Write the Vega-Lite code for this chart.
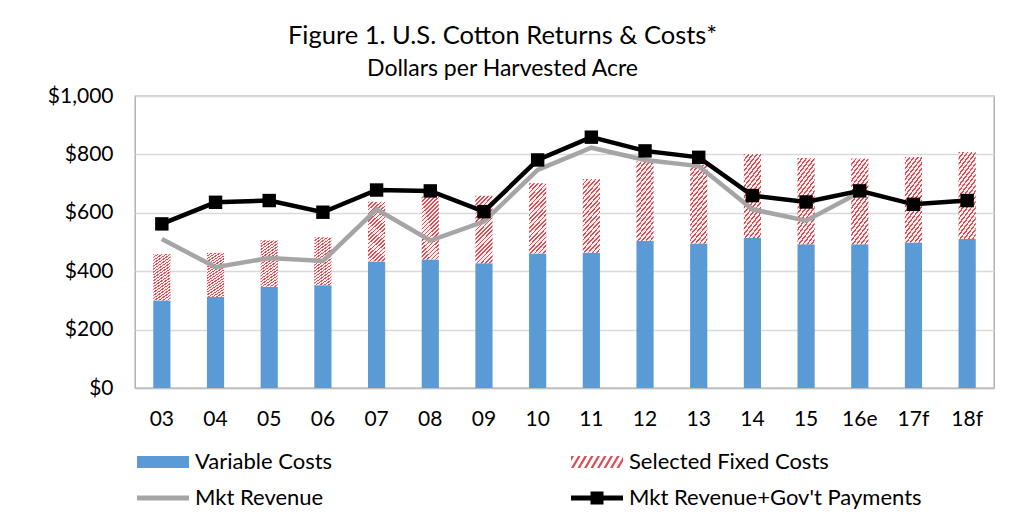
{
  "$schema": "https://vega.github.io/schema/vega-lite/v6.json",
  "width": 859,
  "height": 292,
  "autosize": {"type": "none"},
  "padding": {"left": 135, "top": 96, "right": 27, "bottom": 126},
  "background": "white",
  "config": {
    "font": "Lato",
    "view": {"stroke": "#a6a6a6", "strokeWidth": 1.3},
    "legend": {"labelFont": "Lato", "labelFontSize": 22, "labelColor": "#000", "symbolStrokeWidth": 0, "labelLimit": 500}
  },
  "title": {
    "text": "Figure 1. U.S. Cotton Returns & Costs*",
    "subtitle": "Dollars per Harvested Acre",
    "font": "Lato",
    "subtitleFont": "Lato",
    "fontSize": 25.5,
    "subtitleFontSize": 23,
    "fontWeight": "normal",
    "color": "#000",
    "subtitleColor": "#000",
    "anchor": "middle",
    "dx": -62,
    "offset": 4,
    "subtitlePadding": 9
  },
  "data": {
    "values": [
      {"year": "03", "series": "Variable Costs", "value": 300},
      {"year": "04", "series": "Variable Costs", "value": 312},
      {"year": "05", "series": "Variable Costs", "value": 347},
      {"year": "06", "series": "Variable Costs", "value": 352},
      {"year": "07", "series": "Variable Costs", "value": 433},
      {"year": "08", "series": "Variable Costs", "value": 440},
      {"year": "09", "series": "Variable Costs", "value": 427},
      {"year": "10", "series": "Variable Costs", "value": 461},
      {"year": "11", "series": "Variable Costs", "value": 463},
      {"year": "12", "series": "Variable Costs", "value": 504},
      {"year": "13", "series": "Variable Costs", "value": 495},
      {"year": "14", "series": "Variable Costs", "value": 514},
      {"year": "15", "series": "Variable Costs", "value": 492},
      {"year": "16e", "series": "Variable Costs", "value": 492},
      {"year": "17f", "series": "Variable Costs", "value": 498},
      {"year": "18f", "series": "Variable Costs", "value": 510},
      {"year": "03", "series": "Selected Fixed Costs", "value": 159},
      {"year": "04", "series": "Selected Fixed Costs", "value": 151},
      {"year": "05", "series": "Selected Fixed Costs", "value": 159},
      {"year": "06", "series": "Selected Fixed Costs", "value": 164},
      {"year": "07", "series": "Selected Fixed Costs", "value": 205},
      {"year": "08", "series": "Selected Fixed Costs", "value": 215},
      {"year": "09", "series": "Selected Fixed Costs", "value": 231},
      {"year": "10", "series": "Selected Fixed Costs", "value": 240},
      {"year": "11", "series": "Selected Fixed Costs", "value": 253},
      {"year": "12", "series": "Selected Fixed Costs", "value": 272},
      {"year": "13", "series": "Selected Fixed Costs", "value": 270},
      {"year": "14", "series": "Selected Fixed Costs", "value": 287},
      {"year": "15", "series": "Selected Fixed Costs", "value": 296},
      {"year": "16e", "series": "Selected Fixed Costs", "value": 294},
      {"year": "17f", "series": "Selected Fixed Costs", "value": 293},
      {"year": "18f", "series": "Selected Fixed Costs", "value": 298},
      {"year": "03", "series": "Mkt Revenue", "value": 510},
      {"year": "04", "series": "Mkt Revenue", "value": 414},
      {"year": "05", "series": "Mkt Revenue", "value": 445},
      {"year": "06", "series": "Mkt Revenue", "value": 435},
      {"year": "07", "series": "Mkt Revenue", "value": 612},
      {"year": "08", "series": "Mkt Revenue", "value": 505},
      {"year": "09", "series": "Mkt Revenue", "value": 570},
      {"year": "10", "series": "Mkt Revenue", "value": 747},
      {"year": "11", "series": "Mkt Revenue", "value": 823},
      {"year": "12", "series": "Mkt Revenue", "value": 781},
      {"year": "13", "series": "Mkt Revenue", "value": 760},
      {"year": "14", "series": "Mkt Revenue", "value": 612},
      {"year": "15", "series": "Mkt Revenue", "value": 573},
      {"year": "16e", "series": "Mkt Revenue", "value": 670},
      {"year": "03", "series": "Mkt Revenue+Gov't Payments", "value": 562},
      {"year": "04", "series": "Mkt Revenue+Gov't Payments", "value": 636},
      {"year": "05", "series": "Mkt Revenue+Gov't Payments", "value": 642},
      {"year": "06", "series": "Mkt Revenue+Gov't Payments", "value": 602},
      {"year": "07", "series": "Mkt Revenue+Gov't Payments", "value": 678},
      {"year": "08", "series": "Mkt Revenue+Gov't Payments", "value": 675},
      {"year": "09", "series": "Mkt Revenue+Gov't Payments", "value": 604},
      {"year": "10", "series": "Mkt Revenue+Gov't Payments", "value": 781},
      {"year": "11", "series": "Mkt Revenue+Gov't Payments", "value": 859},
      {"year": "12", "series": "Mkt Revenue+Gov't Payments", "value": 812},
      {"year": "13", "series": "Mkt Revenue+Gov't Payments", "value": 790},
      {"year": "14", "series": "Mkt Revenue+Gov't Payments", "value": 659},
      {"year": "15", "series": "Mkt Revenue+Gov't Payments", "value": 637},
      {"year": "16e", "series": "Mkt Revenue+Gov't Payments", "value": 675},
      {"year": "17f", "series": "Mkt Revenue+Gov't Payments", "value": 629},
      {"year": "18f", "series": "Mkt Revenue+Gov't Payments", "value": 642}
    ]
  },
  "encoding": {
    "x": {
      "field": "year",
      "type": "ordinal",
      "sort": null,
      "scale": {"paddingInner": 0.68, "paddingOuter": 0.34},
      "axis": {
        "title": null,
        "labelAngle": 0,
        "labelFont": "Lato",
        "labelFontSize": 21,
        "labelColor": "#000",
        "labelPadding": 20,
        "ticks": false,
        "domainColor": "#bfbfbf",
        "domainWidth": 1.5,
        "grid": false
      }
    },
    "y": {
      "field": "value",
      "type": "quantitative",
      "scale": {"domain": [0, 1000]},
      "axis": {
        "title": null,
        "values": [0, 200, 400, 600, 800, 1000],
        "format": "$,.0f",
        "labelFont": "Lato",
        "labelFontSize": 21,
        "labelColor": "#000",
        "labelPadding": 22,
        "domain": false,
        "ticks": false,
        "gridColor": "#d9d9d9",
        "gridWidth": 1.5
      }
    }
  },
  "layer": [
    {
      "transform": [{"filter": {"field": "series", "oneOf": ["Variable Costs", "Selected Fixed Costs"]}}],
      "mark": {"type": "bar"},
      "encoding": {
        "order": {"field": "series", "sort": "descending"},
        "color": {
          "condition": {
            "test": {"field": "series", "equal": "Selected Fixed Costs"},
            "value": {
              "gradient": "linear", "x1": 0, "y1": 0, "x2": 0.307, "y2": 1.18,
              "stops": [
                {"offset": 0, "color": "#d6505a"}, {"offset": 0.02, "color": "#d6505a"}, {"offset": 0.02, "color": "#fdeeee"}, {"offset": 0.05, "color": "#fdeeee"},
                {"offset": 0.05, "color": "#d6505a"}, {"offset": 0.07, "color": "#d6505a"}, {"offset": 0.07, "color": "#fdeeee"}, {"offset": 0.1, "color": "#fdeeee"},
                {"offset": 0.1, "color": "#d6505a"}, {"offset": 0.12, "color": "#d6505a"}, {"offset": 0.12, "color": "#fdeeee"}, {"offset": 0.15, "color": "#fdeeee"},
                {"offset": 0.15, "color": "#d6505a"}, {"offset": 0.17, "color": "#d6505a"}, {"offset": 0.17, "color": "#fdeeee"}, {"offset": 0.2, "color": "#fdeeee"},
                {"offset": 0.2, "color": "#d6505a"}, {"offset": 0.22, "color": "#d6505a"}, {"offset": 0.22, "color": "#fdeeee"}, {"offset": 0.25, "color": "#fdeeee"},
                {"offset": 0.25, "color": "#d6505a"}, {"offset": 0.27, "color": "#d6505a"}, {"offset": 0.27, "color": "#fdeeee"}, {"offset": 0.3, "color": "#fdeeee"},
                {"offset": 0.3, "color": "#d6505a"}, {"offset": 0.32, "color": "#d6505a"}, {"offset": 0.32, "color": "#fdeeee"}, {"offset": 0.35, "color": "#fdeeee"},
                {"offset": 0.35, "color": "#d6505a"}, {"offset": 0.37, "color": "#d6505a"}, {"offset": 0.37, "color": "#fdeeee"}, {"offset": 0.4, "color": "#fdeeee"},
                {"offset": 0.4, "color": "#d6505a"}, {"offset": 0.42, "color": "#d6505a"}, {"offset": 0.42, "color": "#fdeeee"}, {"offset": 0.45, "color": "#fdeeee"},
                {"offset": 0.45, "color": "#d6505a"}, {"offset": 0.47, "color": "#d6505a"}, {"offset": 0.47, "color": "#fdeeee"}, {"offset": 0.5, "color": "#fdeeee"},
                {"offset": 0.5, "color": "#d6505a"}, {"offset": 0.52, "color": "#d6505a"}, {"offset": 0.52, "color": "#fdeeee"}, {"offset": 0.55, "color": "#fdeeee"},
                {"offset": 0.55, "color": "#d6505a"}, {"offset": 0.57, "color": "#d6505a"}, {"offset": 0.57, "color": "#fdeeee"}, {"offset": 0.6, "color": "#fdeeee"},
                {"offset": 0.6, "color": "#d6505a"}, {"offset": 0.62, "color": "#d6505a"}, {"offset": 0.62, "color": "#fdeeee"}, {"offset": 0.65, "color": "#fdeeee"},
                {"offset": 0.65, "color": "#d6505a"}, {"offset": 0.67, "color": "#d6505a"}, {"offset": 0.67, "color": "#fdeeee"}, {"offset": 0.7, "color": "#fdeeee"},
                {"offset": 0.7, "color": "#d6505a"}, {"offset": 0.72, "color": "#d6505a"}, {"offset": 0.72, "color": "#fdeeee"}, {"offset": 0.75, "color": "#fdeeee"},
                {"offset": 0.75, "color": "#d6505a"}, {"offset": 0.77, "color": "#d6505a"}, {"offset": 0.77, "color": "#fdeeee"}, {"offset": 0.8, "color": "#fdeeee"},
                {"offset": 0.8, "color": "#d6505a"}, {"offset": 0.82, "color": "#d6505a"}, {"offset": 0.82, "color": "#fdeeee"}, {"offset": 0.85, "color": "#fdeeee"},
                {"offset": 0.85, "color": "#d6505a"}, {"offset": 0.87, "color": "#d6505a"}, {"offset": 0.87, "color": "#fdeeee"}, {"offset": 0.9, "color": "#fdeeee"},
                {"offset": 0.9, "color": "#d6505a"}, {"offset": 0.92, "color": "#d6505a"}, {"offset": 0.92, "color": "#fdeeee"}, {"offset": 0.95, "color": "#fdeeee"},
                {"offset": 0.95, "color": "#d6505a"}, {"offset": 0.97, "color": "#d6505a"}, {"offset": 0.97, "color": "#fdeeee"}, {"offset": 1, "color": "#fdeeee"}
              ]
            }
          },
          "field": "series",
          "type": "nominal",
          "scale": {
            "domain": ["Variable Costs", "Selected Fixed Costs", "Mkt Revenue", "Mkt Revenue+Gov't Payments"],
            "range": ["#5b9bd5", "#d6505a", "#a5a5a5", "#000000"]
          },
          "legend": {
            "title": null,
            "orient": "none",
            "direction": "horizontal",
            "legendX": 17,
            "legendY": 355,
            "columns": 2,
            "columnPadding": 238,
            "rowPadding": 14,
            "symbolSize": 400,
            "labelOffset": 21,
            "labelFontSize": 22,
            "labelFont": "Lato",
            "labelColor": "#000",
            "labelLimit": 500,
            "encode": {
              "symbols": {
                "update": {
                  "shape": [
                    {"test": "datum.value === 'Selected Fixed Costs'", "value": "M-2.6,0.6L-2.34,0.6L-1.64,-0.6L-1.9,-0.6Z M-1.95,0.6L-1.69,0.6L-0.99,-0.6L-1.25,-0.6Z M-1.3,0.6L-1.04,0.6L-0.34,-0.6L-0.6,-0.6Z M-0.65,0.6L-0.39,0.6L0.31,-0.6L0.05,-0.6Z M0,0.6L0.26,0.6L0.96,-0.6L0.7,-0.6Z M0.65,0.6L0.91,0.6L1.61,-0.6L1.35,-0.6Z M1.3,0.6L1.56,0.6L2.26,-0.6L2,-0.6Z M-2.6,-0.069L-2.29,-0.6L-2.55,-0.6L-2.6,-0.514Z M1.95,0.6L2.21,0.6L2.6,-0.069L2.6,-0.514Z"},
                    {"test": "datum.value === 'Mkt Revenue'", "value": "M-2.6,-0.25H2.6V0.25H-2.6Z"},
                    {"test": "datum.value === 'Variable Costs'", "value": "M-2.6,-0.6H2.6V0.6H-2.6Z"},
                    {"value": "M-2.6,-0.25H2.6V0.25H-2.6Z M-0.65,-0.65H0.65V0.65H-0.65Z"}
                  ],
                  "stroke": {"value": "transparent"},
                  "strokeWidth": {"value": 0},
                  "size": {"value": 400},
                  "opacity": {"value": 1},
                  "fillOpacity": {"value": 1}
                }
              }
            }
          }
        }
      }
    },
    {
      "transform": [{"filter": {"field": "series", "equal": "Mkt Revenue"}}],
      "mark": {"type": "line", "strokeWidth": 4.5},
      "encoding": {
        "color": {"field": "series", "type": "nominal"}
      }
    },
    {
      "transform": [{"filter": {"field": "series", "equal": "Mkt Revenue+Gov't Payments"}}],
      "mark": {"type": "line", "strokeWidth": 4.5, "point": {"shape": "square", "size": 180, "filled": true, "opacity": 1}},
      "encoding": {
        "color": {"field": "series", "type": "nominal"}
      }
    }
  ]
}
